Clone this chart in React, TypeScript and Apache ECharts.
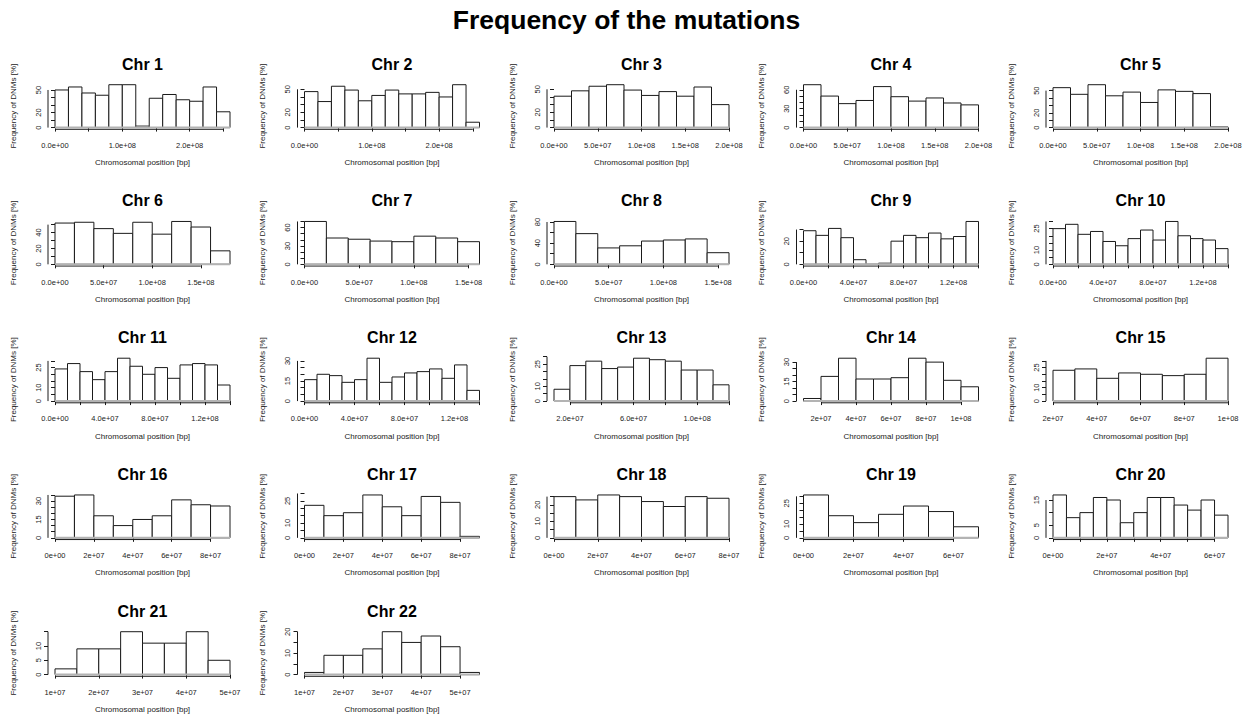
import React, { useEffect, useRef } from "react";
import * as echarts from "echarts";

// ---------- data ----------
const CHROMS = [
  "Chr 1", "Chr 2", "Chr 3", "Chr 4", "Chr 5",
  "Chr 6", "Chr 7", "Chr 8", "Chr 9", "Chr 10",
  "Chr 11", "Chr 12", "Chr 13", "Chr 14", "Chr 15",
  "Chr 16", "Chr 17", "Chr 18", "Chr 19", "Chr 20",
  "Chr 21", "Chr 22",
];

// histogram breaks: first break and bin width (bp)
const BIN_START = [0, 0, 0, 0, 0, 0, 0, 0, 0, 0, 0, 0, 1e7, 1e7, 2e7, 0, 0, 0, 0, 0, 1e7, 1e7];
const BIN_WIDTH = [
  2e7, 2e7, 2e7, 2e7, 2e7, 2e7, 2e7, 2e7,
  1e7, 1e7, 1e7, 1e7, 1e7, 1e7, 1e7, 1e7, 1e7, 1e7, 1e7,
  5e6, 5e6, 5e6,
];

// bar heights (Frequency of DNMs [%])
const CHR1 = [50, 54, 46, 43, 57, 57, 2, 39, 44, 37, 35, 54, 21];
const CHR2 = [47, 34, 54, 49, 35, 42, 49, 44, 44, 46, 40, 56, 7];
const CHR3 = [41, 48, 54, 56, 49, 42, 47, 41, 53, 30];
const CHR4 = [68, 50, 38, 43, 65, 49, 42, 47, 39, 36];
const CHR5 = [54, 45, 58, 43, 48, 34, 51, 49, 46, 1];
const CHR6 = [52, 53, 45, 39, 53, 38, 54, 47, 17];
const CHR7 = [70, 43, 41, 38, 37, 46, 43, 37];
const CHR8 = [81, 58, 31, 35, 44, 46, 48, 22];
const CHR9 = [29, 25, 31, 23, 4, 0, 1, 20, 25, 23, 27, 22, 24, 37];
const CHR10 = [25, 28, 21, 23, 16, 13, 18, 24, 17, 30, 20, 18, 17, 11];
const CHR11 = [24, 28, 22, 16, 22, 32, 26, 20, 25, 17, 27, 28, 27, 12];
const CHR12 = [16, 20, 19, 14, 16, 32, 14, 18, 21, 22, 24, 17, 27, 8];
const CHR13 = [8, 24, 27, 22, 23, 29, 28, 27, 21, 21, 11];
const CHR14 = [2, 19, 33, 17, 17, 18, 33, 30, 16, 11];
const CHR15 = [23, 24, 17, 21, 20, 19, 20, 32];
const CHR16 = [34, 35, 18, 10, 15, 18, 31, 27, 26];
const CHR17 = [22, 15, 17, 29, 21, 15, 28, 24, 1];
const CHR18 = [25, 23, 26, 25, 22, 19, 25, 24];
const CHR19 = [31, 16, 11, 17, 23, 19, 8];
const CHR20 = [17, 8, 10, 16, 15, 6, 10, 16, 16, 13, 11, 15, 9];
const CHR21 = [2, 9, 9, 15, 11, 11, 15, 5];
const CHR22 = [1, 9, 9, 12, 20, 15, 18, 13, 1];

const COUNTS = [
  CHR1, CHR2, CHR3, CHR4, CHR5, CHR6, CHR7, CHR8, CHR9, CHR10, CHR11,
  CHR12, CHR13, CHR14, CHR15, CHR16, CHR17, CHR18, CHR19, CHR20, CHR21, CHR22,
];

// x-axis ticks
const X_TICK_FROM = [0, 0, 0, 0, 0, 0, 0, 0, 0, 0, 0, 0, 2e7, 2e7, 2e7, 0, 0, 0, 0, 0, 1e7, 1e7];
const X_TICK_TO = [
  2.5e8, 2.5e8, 2e8, 2e8, 2e8, 1.5e8, 1.5e8, 1.5e8, 1.4e8, 1.4e8, 1.4e8,
  1.4e8, 1.2e8, 1e8, 1e8, 8e7, 8e7, 8e7, 6e7, 6e7, 5e7, 5e7,
];
const X_TICK_STEP = [
  5e7, 5e7, 5e7, 5e7, 5e7, 5e7, 5e7, 5e7, 2e7, 2e7, 2e7,
  2e7, 2e7, 2e7, 2e7, 2e7, 2e7, 2e7, 2e7, 1e7, 1e7, 1e7,
];
const X_LABELED = [
  [0, 1e8, 2e8], [0, 1e8, 2e8],
  [0, 5e7, 1e8, 1.5e8, 2e8], [0, 5e7, 1e8, 1.5e8, 2e8], [0, 5e7, 1e8, 1.5e8, 2e8],
  [0, 5e7, 1e8, 1.5e8], [0, 5e7, 1e8, 1.5e8], [0, 5e7, 1e8, 1.5e8],
  [0, 4e7, 8e7, 1.2e8], [0, 4e7, 8e7, 1.2e8], [0, 4e7, 8e7, 1.2e8], [0, 4e7, 8e7, 1.2e8],
  [2e7, 6e7, 1e8],
  [2e7, 4e7, 6e7, 8e7, 1e8], [2e7, 4e7, 6e7, 8e7, 1e8],
  [0, 2e7, 4e7, 6e7, 8e7], [0, 2e7, 4e7, 6e7, 8e7], [0, 2e7, 4e7, 6e7, 8e7],
  [0, 2e7, 4e7, 6e7], [0, 2e7, 4e7, 6e7],
  [1e7, 2e7, 3e7, 4e7, 5e7], [1e7, 2e7, 3e7, 4e7, 5e7],
];
const X_DIGITS = [1, 1, 1, 1, 1, 1, 1, 1, 1, 1, 1, 1, 1, 0, 0, 0, 0, 0, 0, 0, 0, 0];

// y-axis ticks
const Y_TICK_MAX = [50, 50, 50, 60, 50, 50, 70, 80, 30, 30, 30, 30, 30, 30, 30, 35, 30, 25, 30, 15, 15, 20];
const Y_TICK_STEP = [10, 10, 10, 10, 10, 10, 10, 20, 10, 5, 5, 5, 5, 5, 5, 5, 5, 5, 5, 5, 5, 5];
const Y_LABELED = [
  [0, 20, 50], [0, 20, 50], [0, 20, 50], [0, 30, 60], [0, 20, 50],
  [0, 20, 40], [0, 30, 60], [0, 40, 80], [0, 20], [0, 10, 25],
  [0, 10, 25], [0, 15, 30], [0, 10, 25], [0, 15, 30], [0, 10, 25],
  [0, 15, 30], [0, 10, 25], [0, 10, 20], [0, 10, 25], [0, 5, 15],
  [0, 5, 10], [0, 10, 20],
];

const MAIN_TITLE = "Frequency of the mutations";
const X_NAME = "Chromosomal position [bp]";
const Y_NAME = "Frequency of DNMs [%]";

// ---------- layout ----------
const W = 1253;
const H = 715;
const COL_PITCH = 249.5;
const ROW_PITCH = 136.75;
const PLOT_LEFT = 48;
const PLOT_TOP = 83;
const PLOT_W = 189;
const PLOT_H = 46.3;
const FONT = '"Liberation Sans", Arial, Helvetica, sans-serif';
const INK = "#1a1a1a";

function seq(from: number, to: number, step: number): number[] {
  const out: number[] = [];
  const n = Math.round((to - from) / step);
  for (let k = 0; k <= n; k++) out.push(from + k * step);
  return out;
}

function rSci(v: number, d: number): string {
  return v
    .toExponential(d)
    .replace(/e([+-])(\d+)$/, (_m: string, s: string, e: string) => "e" + s + e.padStart(2, "0"));
}

function renderBar(_params: any, api: any) {
  const p0 = api.coord([api.value(0), 0]);
  const p1 = api.coord([api.value(1), api.value(2)]);
  return {
    type: "rect",
    shape: { x: p0[0], y: p1[1], width: p1[0] - p0[0], height: p0[1] - p1[1] },
    style: { fill: "#ffffff", stroke: INK, lineWidth: 1 },
  };
}

function renderFrame(params: any, api: any) {
  const kind = api.value(0);
  const a = api.value(1);
  const b = api.value(2);
  const cs = params.coordSys;
  if (kind === 0) {
    const y = cs.y + cs.height;
    return {
      type: "line",
      shape: { x1: api.coord([a, 0])[0], y1: y, x2: api.coord([b, 0])[0], y2: y },
      style: { stroke: INK, lineWidth: 1 },
    };
  }
  if (kind === 1) {
    const x = cs.x;
    return {
      type: "line",
      shape: { x1: x, y1: api.coord([0, a])[1], x2: x, y2: api.coord([0, b])[1] },
      style: { stroke: INK, lineWidth: 1 },
    };
  }
  const y0 = api.coord([a, 0])[1];
  return {
    type: "line",
    shape: { x1: api.coord([a, 0])[0], y1: y0, x2: api.coord([b, 0])[0], y2: y0 },
    style: { stroke: "#b3b3b3", lineWidth: 2 },
  };
}

function buildOption() {
  const grid: any[] = [];
  const xAxis: any[] = [];
  const yAxis: any[] = [];
  const series: any[] = [];
  const graphic: any[] = [
    {
      type: "text",
      x: W / 2,
      y: 20,
      style: {
        text: MAIN_TITLE,
        textAlign: "center",
        textVerticalAlign: "middle",
        fontSize: 26.5,
        fontWeight: "bold",
        fontFamily: FONT,
        fill: "#000",
      },
    },
  ];

  COUNTS.forEach((counts, i) => {
    const col = i % 5;
    const row = Math.floor(i / 5);
    const left = PLOT_LEFT + col * COL_PITCH;
    const top = PLOT_TOP + row * ROW_PITCH;
    const b0 = BIN_START[i];
    const w = BIN_WIDTH[i];
    const bN = b0 + counts.length * w;
    const xr = bN - b0;
    const M = Math.max(...counts);
    const xTicks = seq(X_TICK_FROM[i], X_TICK_TO[i], X_TICK_STEP[i]);
    const yTicks = seq(0, Y_TICK_MAX[i], Y_TICK_STEP[i]);
    const digits = X_DIGITS[i];

    grid.push({ left, top, width: PLOT_W, height: PLOT_H, containLabel: false });

    xAxis.push({
      gridIndex: i,
      type: "value",
      min: b0 - 0.04 * xr,
      max: bN + 0.04 * xr,
      axisLine: { show: false },
      splitLine: { show: false },
      axisTick: { show: true, length: 4, customValues: xTicks, lineStyle: { color: INK, width: 1 } },
      axisLabel: {
        show: true,
        customValues: X_LABELED[i],
        formatter: (v: number) => rSci(v, digits),
        fontSize: 7.5,
        fontFamily: FONT,
        color: "#222",
        margin: 12,
      },
    });

    yAxis.push({
      gridIndex: i,
      type: "value",
      min: -0.04 * M,
      max: 1.04 * M,
      axisLine: { show: false },
      splitLine: { show: false },
      axisTick: { show: true, length: 4, customValues: yTicks, lineStyle: { color: INK, width: 1 } },
      axisLabel: {
        show: true,
        customValues: Y_LABELED[i],
        formatter: (v: number) => String(v),
        rotate: 90,
        fontSize: 7.5,
        fontFamily: FONT,
        color: "#222",
        margin: 6,
      },
    });

    series.push({
      type: "custom",
      xAxisIndex: i,
      yAxisIndex: i,
      clip: false,
      silent: true,
      renderItem: renderBar,
      data: counts.map((c, k) => [b0 + k * w, b0 + (k + 1) * w, c]),
    });

    series.push({
      type: "custom",
      xAxisIndex: i,
      yAxisIndex: i,
      clip: false,
      silent: true,
      renderItem: renderFrame,
      data: [
        [0, xTicks[0], xTicks[xTicks.length - 1]],
        [1, 0, Y_TICK_MAX[i]],
        [2, b0, bN],
      ],
    });

    const cx = left + PLOT_W / 2;
    graphic.push({
      type: "text",
      x: cx,
      y: 64 + row * ROW_PITCH,
      style: {
        text: CHROMS[i],
        textAlign: "center",
        textVerticalAlign: "middle",
        fontSize: 16,
        fontWeight: "bold",
        fontFamily: FONT,
        fill: "#000",
      },
    });
    graphic.push({
      type: "text",
      x: cx,
      y: 162.5 + row * ROW_PITCH,
      style: {
        text: X_NAME,
        textAlign: "center",
        textVerticalAlign: "middle",
        fontSize: 8,
        fontFamily: FONT,
        fill: "#222",
      },
    });
    graphic.push({
      type: "text",
      x: 13 + col * COL_PITCH,
      y: top + PLOT_H / 2,
      rotation: Math.PI / 2,
      style: {
        text: Y_NAME,
        textAlign: "center",
        textVerticalAlign: "middle",
        fontSize: 8,
        fontFamily: FONT,
        fill: "#222",
      },
    });
  });

  return {
    animation: false,
    backgroundColor: "#ffffff",
    grid,
    xAxis,
    yAxis,
    series,
    graphic,
  };
}

export default function App() {
  const ref = useRef<HTMLDivElement | null>(null);
  useEffect(() => {
    document.body.style.margin = "0";
    if (!ref.current) return;
    const chart = echarts.init(ref.current, null, { renderer: "svg" });
    chart.setOption(buildOption() as any);
    return () => {
      chart.dispose();
    };
  }, []);
  return <div ref={ref} style={{ width: W, height: H }} />;
}
